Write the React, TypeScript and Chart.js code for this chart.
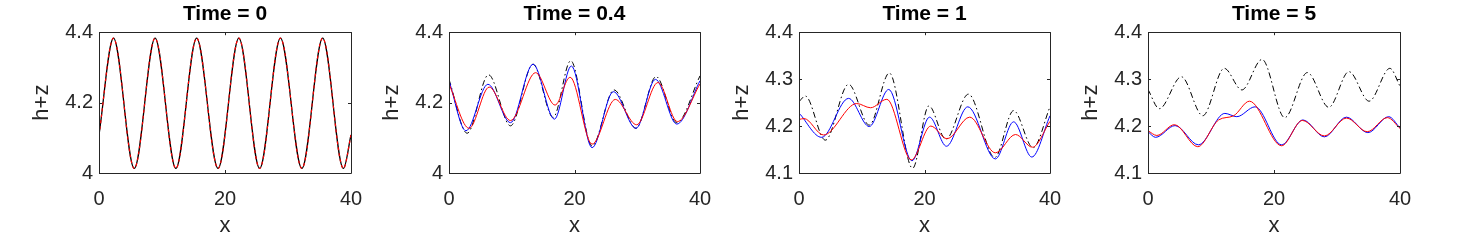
import React, { useEffect, useRef } from 'react';
import { Chart, registerables } from 'chart.js';

Chart.register(...registerables);

const FONT = "'Liberation Sans', Arial, Helvetica, sans-serif";

// ---- tick labels ----
const xTicks = [0, 20, 40];
const yTicksWide = [4, 4.2, 4.4];
const yTicksNarrow = [4.1, 4.2, 4.3, 4.4];

// ---- Time = 0 ----
const t0X = [0, 2.3, 5.6, 8.9, 12.2, 15.5, 18.9, 22.2, 25.5, 28.8, 32.2, 35.5, 38.8, 40];
const t0Black = [4.108, 4.383, 4.013, 4.383, 4.013, 4.383, 4.013, 4.383, 4.013, 4.383, 4.013, 4.383, 4.013, 4.108];
const t0Red = [4.108, 4.383, 4.013, 4.383, 4.013, 4.383, 4.013, 4.383, 4.013, 4.383, 4.013, 4.383, 4.013, 4.108];

// ---- Time = 0.4 ----
const t04BlackX = [0, 2.9, 6.3, 9.8, 13.4, 16.6, 19.4, 22.8, 26.3, 29.8, 33.0, 36.3, 40];
const t04BlackY = [4.266, 4.113, 4.279, 4.134, 4.309, 4.158, 4.319, 4.077, 4.236, 4.127, 4.274, 4.143, 4.276];
const t04BlueX = [0, 2.7, 6.2, 9.8, 13.4, 16.8, 19.5, 22.8, 26.2, 29.8, 32.9, 36.3, 40];
const t04BlueY = [4.262, 4.120, 4.252, 4.143, 4.309, 4.153, 4.304, 4.072, 4.231, 4.127, 4.266, 4.139, 4.262];
const t04RedX = [0, 3.2, 6.4, 9.8, 13.8, 16.9, 19.3, 22.8, 26.5, 29.9, 33.3, 36.4, 40];
const t04RedY = [4.253, 4.127, 4.244, 4.149, 4.285, 4.193, 4.272, 4.082, 4.209, 4.137, 4.257, 4.146, 4.253];

// ---- Time = 1 ----
const t1BlackX = [0, 1.0, 4.2, 7.9, 11.2, 14.4, 18.1, 20.7, 23.4, 27.0, 31.2, 34.2, 37.3, 40];
const t1BlackY = [4.252, 4.264, 4.170, 4.289, 4.202, 4.313, 4.110, 4.243, 4.172, 4.268, 4.133, 4.233, 4.154, 4.241];
const t1BlueX = [0, 3.6, 7.9, 11.2, 14.3, 18.0, 20.8, 23.5, 26.9, 31.3, 34.2, 37.1, 40];
const t1BlueY = [4.228, 4.176, 4.259, 4.199, 4.278, 4.126, 4.219, 4.157, 4.241, 4.130, 4.209, 4.134, 4.222];
const t1RedX = [0, 0.8, 3.9, 9.2, 11.4, 14.0, 17.9, 21.0, 23.6, 27.2, 31.3, 34.5, 37.2, 40];
const t1RedY = [4.214, 4.216, 4.181, 4.248, 4.239, 4.257, 4.128, 4.200, 4.173, 4.219, 4.143, 4.182, 4.155, 4.210];

// ---- Time = 5 ----
const t5BlackX = [0, 1.8, 5.3, 8.7, 12.1, 14.9, 18.1, 21.7, 25.3, 28.7, 31.9, 35.1, 38.4, 40];
const t5BlackY = [4.278, 4.237, 4.305, 4.222, 4.323, 4.277, 4.342, 4.218, 4.314, 4.240, 4.316, 4.253, 4.323, 4.285];
const t5BlueX = [0, 1.2, 4.3, 8.0, 12.2, 14.1, 17.0, 21.2, 24.6, 28.0, 31.5, 34.9, 38.2, 40];
const t5BlueY = [4.188, 4.176, 4.201, 4.160, 4.227, 4.220, 4.241, 4.160, 4.213, 4.177, 4.219, 4.186, 4.220, 4.196];
const t5RedX = [0, 1.4, 4.2, 7.9, 11.2, 13.6, 16.1, 21.2, 24.5, 28.0, 31.5, 34.8, 38.0, 40];
const t5RedY = [4.190, 4.180, 4.203, 4.156, 4.213, 4.222, 4.253, 4.158, 4.212, 4.179, 4.217, 4.188, 4.218, 4.195];

type Series = { xs: number[]; ys: number[]; color: string; dash: number[]; order: number; width: number };
type PanelCfg = {
  title: string;
  yMin: number;
  yMax: number;
  yTicks: number[];
  plotLeft: number;
  plotWidth: number;
  series: Series[];
};

const DASHDOT = [6, 3, 1.5, 3];

const panels: PanelCfg[] = [
  {
    title: 'Time = 0', yMin: 4, yMax: 4.4, yTicks: yTicksWide, plotLeft: 99, plotWidth: 252,
    series: [
      { xs: t0X, ys: t0Black, color: '#000000', dash: [], order: 2, width: 1.3 },
      { xs: t0X, ys: t0Red, color: '#ff0000', dash: [3, 3], order: 1, width: 1.2 },
    ],
  },
  {
    title: 'Time = 0.4', yMin: 4, yMax: 4.4, yTicks: yTicksWide, plotLeft: 449, plotWidth: 251,
    series: [
      { xs: t04BlackX, ys: t04BlackY, color: '#000000', dash: DASHDOT, order: 3, width: 1 },
      { xs: t04BlueX, ys: t04BlueY, color: '#0000ff', dash: [], order: 2, width: 1 },
      { xs: t04RedX, ys: t04RedY, color: '#ff0000', dash: [], order: 1, width: 1 },
    ],
  },
  {
    title: 'Time = 1', yMin: 4.1, yMax: 4.4, yTicks: yTicksNarrow, plotLeft: 799, plotWidth: 251,
    series: [
      { xs: t1BlackX, ys: t1BlackY, color: '#000000', dash: DASHDOT, order: 3, width: 1 },
      { xs: t1BlueX, ys: t1BlueY, color: '#0000ff', dash: [], order: 2, width: 1 },
      { xs: t1RedX, ys: t1RedY, color: '#ff0000', dash: [], order: 1, width: 1 },
    ],
  },
  {
    title: 'Time = 5', yMin: 4.1, yMax: 4.4, yTicks: yTicksNarrow, plotLeft: 1148, plotWidth: 252,
    series: [
      { xs: t5BlackX, ys: t5BlackY, color: '#000000', dash: DASHDOT, order: 3, width: 1 },
      { xs: t5BlueX, ys: t5BlueY, color: '#0000ff', dash: [], order: 2, width: 1 },
      { xs: t5RedX, ys: t5RedY, color: '#ff0000', dash: [], order: 1, width: 1 },
    ],
  },
];

const AXIS_W = 99;
const PAD_R = 14;
const H = 240;
const PLOT_BOTTOM = 173;
const TICK_LEN = 3;

const framePlugin = {
  id: 'matlabFrame',
  afterDraw(chart: any) {
    const { ctx, chartArea } = chart;
    const { left, right, top, bottom } = chartArea;
    const xs = chart.scales.x;
    const ys = chart.scales.y;
    ctx.save();
    ctx.strokeStyle = '#262626';
    ctx.lineWidth = 1;
    ctx.setLineDash([]);
    ctx.beginPath();
    ctx.rect(Math.round(left) + 0.5, Math.round(top) + 0.5, Math.round(right - left), Math.round(bottom - top));
    ctx.stroke();
    ctx.beginPath();
    for (const t of xs.ticks) {
      const px = Math.round(xs.getPixelForValue(t.value)) + 0.5;
      ctx.moveTo(px, bottom);
      ctx.lineTo(px, bottom - TICK_LEN);
      ctx.moveTo(px, top);
      ctx.lineTo(px, top + TICK_LEN);
    }
    for (const t of ys.ticks) {
      const py = Math.round(ys.getPixelForValue(t.value)) + 0.5;
      ctx.moveTo(left, py);
      ctx.lineTo(left + TICK_LEN, py);
      ctx.moveTo(right, py);
      ctx.lineTo(right - TICK_LEN, py);
    }
    ctx.stroke();
    ctx.restore();
  },
};

function Panel({ cfg }: { cfg: PanelCfg }) {
  const ref = useRef<HTMLCanvasElement>(null);
  useEffect(() => {
    const canvas = ref.current;
    if (!canvas) return;
    const chart = new Chart(canvas, {
      type: 'line',
      data: {
        datasets: cfg.series.map((s) => ({
          data: s.xs.map((x, i) => ({ x, y: s.ys[i] })),
          borderColor: s.color,
          backgroundColor: s.color,
          borderWidth: s.width,
          borderDash: s.dash,
          pointRadius: 0,
          cubicInterpolationMode: 'monotone' as const,
          fill: false,
          order: s.order,
        })),
      },
      options: {
        responsive: false,
        animation: false,
        devicePixelRatio: 1,
        layout: { padding: { left: 0, right: PAD_R, top: 0, bottom: 0 } },
        plugins: {
          legend: { display: false },
          tooltip: { enabled: false },
          title: {
            display: true,
            text: cfg.title,
            color: '#000000',
            fullSize: false,
            font: { family: FONT, size: 21, weight: 'bold' },
            padding: { top: 2, bottom: 5 },
          },
        },
        scales: {
          x: {
            type: 'linear',
            min: 0,
            max: 40,
            afterBuildTicks: (s: any) => {
              s.ticks = xTicks.map((v) => ({ value: v }));
            },
            afterFit: (s: any) => {
              s.height = H - PLOT_BOTTOM;
              s.paddingLeft = 0;
              s.paddingRight = 0;
            },
            grid: { display: false, drawTicks: false },
            border: { display: false },
            ticks: {
              color: '#262626',
              font: { family: FONT, size: 20 },
              padding: 14,
              maxRotation: 0,
              autoSkip: false,
              callback: (v: any) => String(Number(Number(v).toFixed(2))),
            },
            title: {
              display: true,
              text: 'x',
              color: '#262626',
              font: { family: FONT, size: 22 },
              padding: { top: 0, bottom: 1 },
            },
          },
          y: {
            type: 'linear',
            min: cfg.yMin,
            max: cfg.yMax,
            afterBuildTicks: (s: any) => {
              s.ticks = cfg.yTicks.map((v) => ({ value: v }));
            },
            afterFit: (s: any) => {
              s.width = AXIS_W;
              s.paddingTop = 0;
              s.paddingBottom = 0;
            },
            grid: { display: false, drawTicks: false },
            border: { display: false },
            ticks: {
              color: '#262626',
              font: { family: FONT, size: 20 },
              padding: 6,
              autoSkip: false,
              callback: (v: any) => String(Number(Number(v).toFixed(2))),
            },
            title: {
              display: true,
              text: 'h+z',
              color: '#262626',
              font: { family: FONT, size: 22 },
              padding: { top: 29, bottom: 0 },
            },
          },
        },
      } as any,
      plugins: [framePlugin],
    });
    return () => chart.destroy();
  }, [cfg]);
  return (
    <canvas
      ref={ref}
      width={AXIS_W + cfg.plotWidth + PAD_R}
      height={H}
      style={{ position: 'absolute', left: cfg.plotLeft - AXIS_W, top: 0 }}
    />
  );
}

export default function App() {
  return (
    <div style={{ position: 'absolute', left: 0, top: 0, width: 1460, height: 240, background: '#ffffff' }}>
      {panels.map((p) => (
        <Panel key={p.title} cfg={p} />
      ))}
    </div>
  );
}
